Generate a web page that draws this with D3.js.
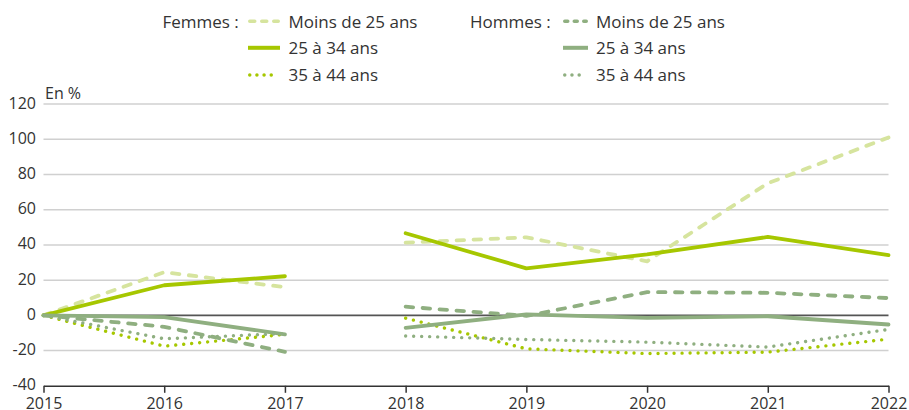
<!DOCTYPE html>
<html>
<head>
<meta charset="utf-8">
<script src="https://cdn.jsdelivr.net/npm/d3@7"></script>
<style>
  html, body { margin: 0; padding: 0; background: #fff; }
  svg { display: block; }
  text { font-family: "Open Sans", sans-serif; fill: #333; }
</style>
</head>
<body>
<svg id="chart" width="909" height="410"></svg>
<script>
const years = [2015, 2016, 2017, 2018, 2019, 2020, 2021, 2022];
const segments = [[2015, 2016, 2017], [2018, 2019, 2020, 2021, 2022]];
const yTicks = [-40, -20, 0, 20, 40, 60, 80, 100, 120];

const femmesMoins25 = [0, 24.5, 16, 41.3, 44.3, 30.7, 75, 101];
const femmes25a34   = [0, 17.1, 22.2, 46.6, 26.7, 34.6, 44.5, 34.2];
const femmes35a44   = [0, -17.5, -10.8, -1.6, -19, -21.7, -20.9, -13.5];
const hommesMoins25 = [0, -6.5, -20.7, 4.9, -0.3, 13.2, 12.8, 9.8];
const hommes25a34   = [0, -1, -10.8, -7.1, 0.5, -1.4, -0.5, -5.2];
const hommes35a44   = [0, -13.3, -10.3, -11.7, -13.7, -15.2, -18, -8];

const seriesNames = ["Moins de 25 ans", "25 à 34 ans", "35 à 44 ans"];
const groups = ["Femmes :", "Hommes :"];

const series = [
  {group: 0, name: 0, values: femmesMoins25, color: "#d6e49e", style: "dash"},
  {group: 0, name: 1, values: femmes25a34, color: "#a6c700", style: "solid"},
  {group: 0, name: 2, values: femmes35a44, color: "#a6c700", style: "dot"},
  {group: 1, name: 0, values: hommesMoins25, color: "#8faf80", style: "dash"},
  {group: 1, name: 1, values: hommes25a34, color: "#8faf80", style: "solid"},
  {group: 1, name: 2, values: hommes35a44, color: "#8faf80", style: "dot"},
];

const svg = d3.select("#chart");
const x = d3.scaleLinear().domain([2015, 2022]).range([43.5, 888.5]);
const y = d3.scaleLinear().domain([-40, 120]).range([385.8, 104]);

// gridlines
svg.append("g").selectAll("line")
  .data(yTicks.filter(t => t !== -40 && t !== 0))
  .join("line")
  .attr("x1", x(2015)).attr("x2", x(2022))
  .attr("y1", d => y(d)).attr("y2", d => y(d))
  .attr("stroke", "#d0d0d0").attr("stroke-width", 1.5);

// zero line
svg.append("line")
  .attr("x1", x(2015)).attr("x2", x(2022))
  .attr("y1", y(0)).attr("y2", y(0))
  .attr("stroke", "#555").attr("stroke-width", 1.6);

// y labels
svg.append("g").selectAll("text")
  .data(yTicks).join("text")
  .attr("x", 36).attr("y", d => y(d) + 4.5)
  .attr("text-anchor", "end")
  .attr("font-size", 16)
  .text(d => d);

svg.append("text").attr("x", 45).attr("y", 98.5).attr("font-size", 16).text("En %");

// x axis
const xAxis = svg.append("g").attr("transform", `translate(0,${y(-40)})`)
  .call(d3.axisBottom(x).tickValues(years).tickFormat(d3.format("d")).tickSize(7).tickSizeOuter(0));
xAxis.select(".domain").attr("stroke", "#333").attr("stroke-width", 1.5);
xAxis.selectAll(".tick line").attr("stroke", "#333").attr("stroke-width", 1.5);
xAxis.selectAll(".tick text").attr("font-size", 16).attr("font-family", "Open Sans, sans-serif")
  .attr("fill", "#333").attr("dy", 0).attr("y", 23);

const dashFor = s => s === "dash" ? "7.5,9.5" : s === "dot" ? "0.01,8" : null;
const widthFor = s => s === "dot" ? 3.4 : 3.8;

const line = d3.line().x(d => x(d.year)).y(d => y(d.value));

const lg = svg.append("g");
series.forEach(s => {
  segments.forEach(seg => {
    const pts = seg.map(yr => ({year: yr, value: s.values[years.indexOf(yr)]}));
    lg.append("path")
      .attr("d", line(pts))
      .attr("fill", "none")
      .attr("stroke", s.color)
      .attr("stroke-width", widthFor(s.style))
      .attr("stroke-linecap", "round")
      .attr("stroke-linejoin", "round")
      .attr("stroke-dasharray", dashFor(s.style));
  });
});

// legend
const legX = [
  {label: 162.5, line0: 248, line1: 280, text: 288.5, dash: "5,7", dot: "0.01,7.15"},
  {label: 470, line0: 563, line1: 588, text: 596, dash: "3,6.5", dot: "0.01,7.2"}
];
const legY = [21.3, 47.8, 75];
groups.forEach((g, gi) => {
  svg.append("text").attr("x", legX[gi].label).attr("y", legY[0] + 6.3).attr("font-size", 17).text(g);
});
series.forEach(s => {
  const L = legX[s.group];
  const yy = legY[s.name];
  const round = s.style !== "solid";
  svg.append("line")
    .attr("x1", round ? L.line0 + 1.75 : L.line0).attr("x2", round ? L.line1 - 1.75 : L.line1)
    .attr("y1", yy).attr("y2", yy)
    .attr("stroke", s.color).attr("stroke-width", s.style === "solid" ? 4 : 3.5)
    .attr("stroke-linecap", round ? "round" : "butt")
    .attr("stroke-dasharray", s.style === "dash" ? L.dash : s.style === "dot" ? L.dot : null);
  svg.append("text").attr("x", L.text).attr("y", yy + 6.3).attr("font-size", 17).text(seriesNames[s.name]);
});
</script>
</body>
</html>
